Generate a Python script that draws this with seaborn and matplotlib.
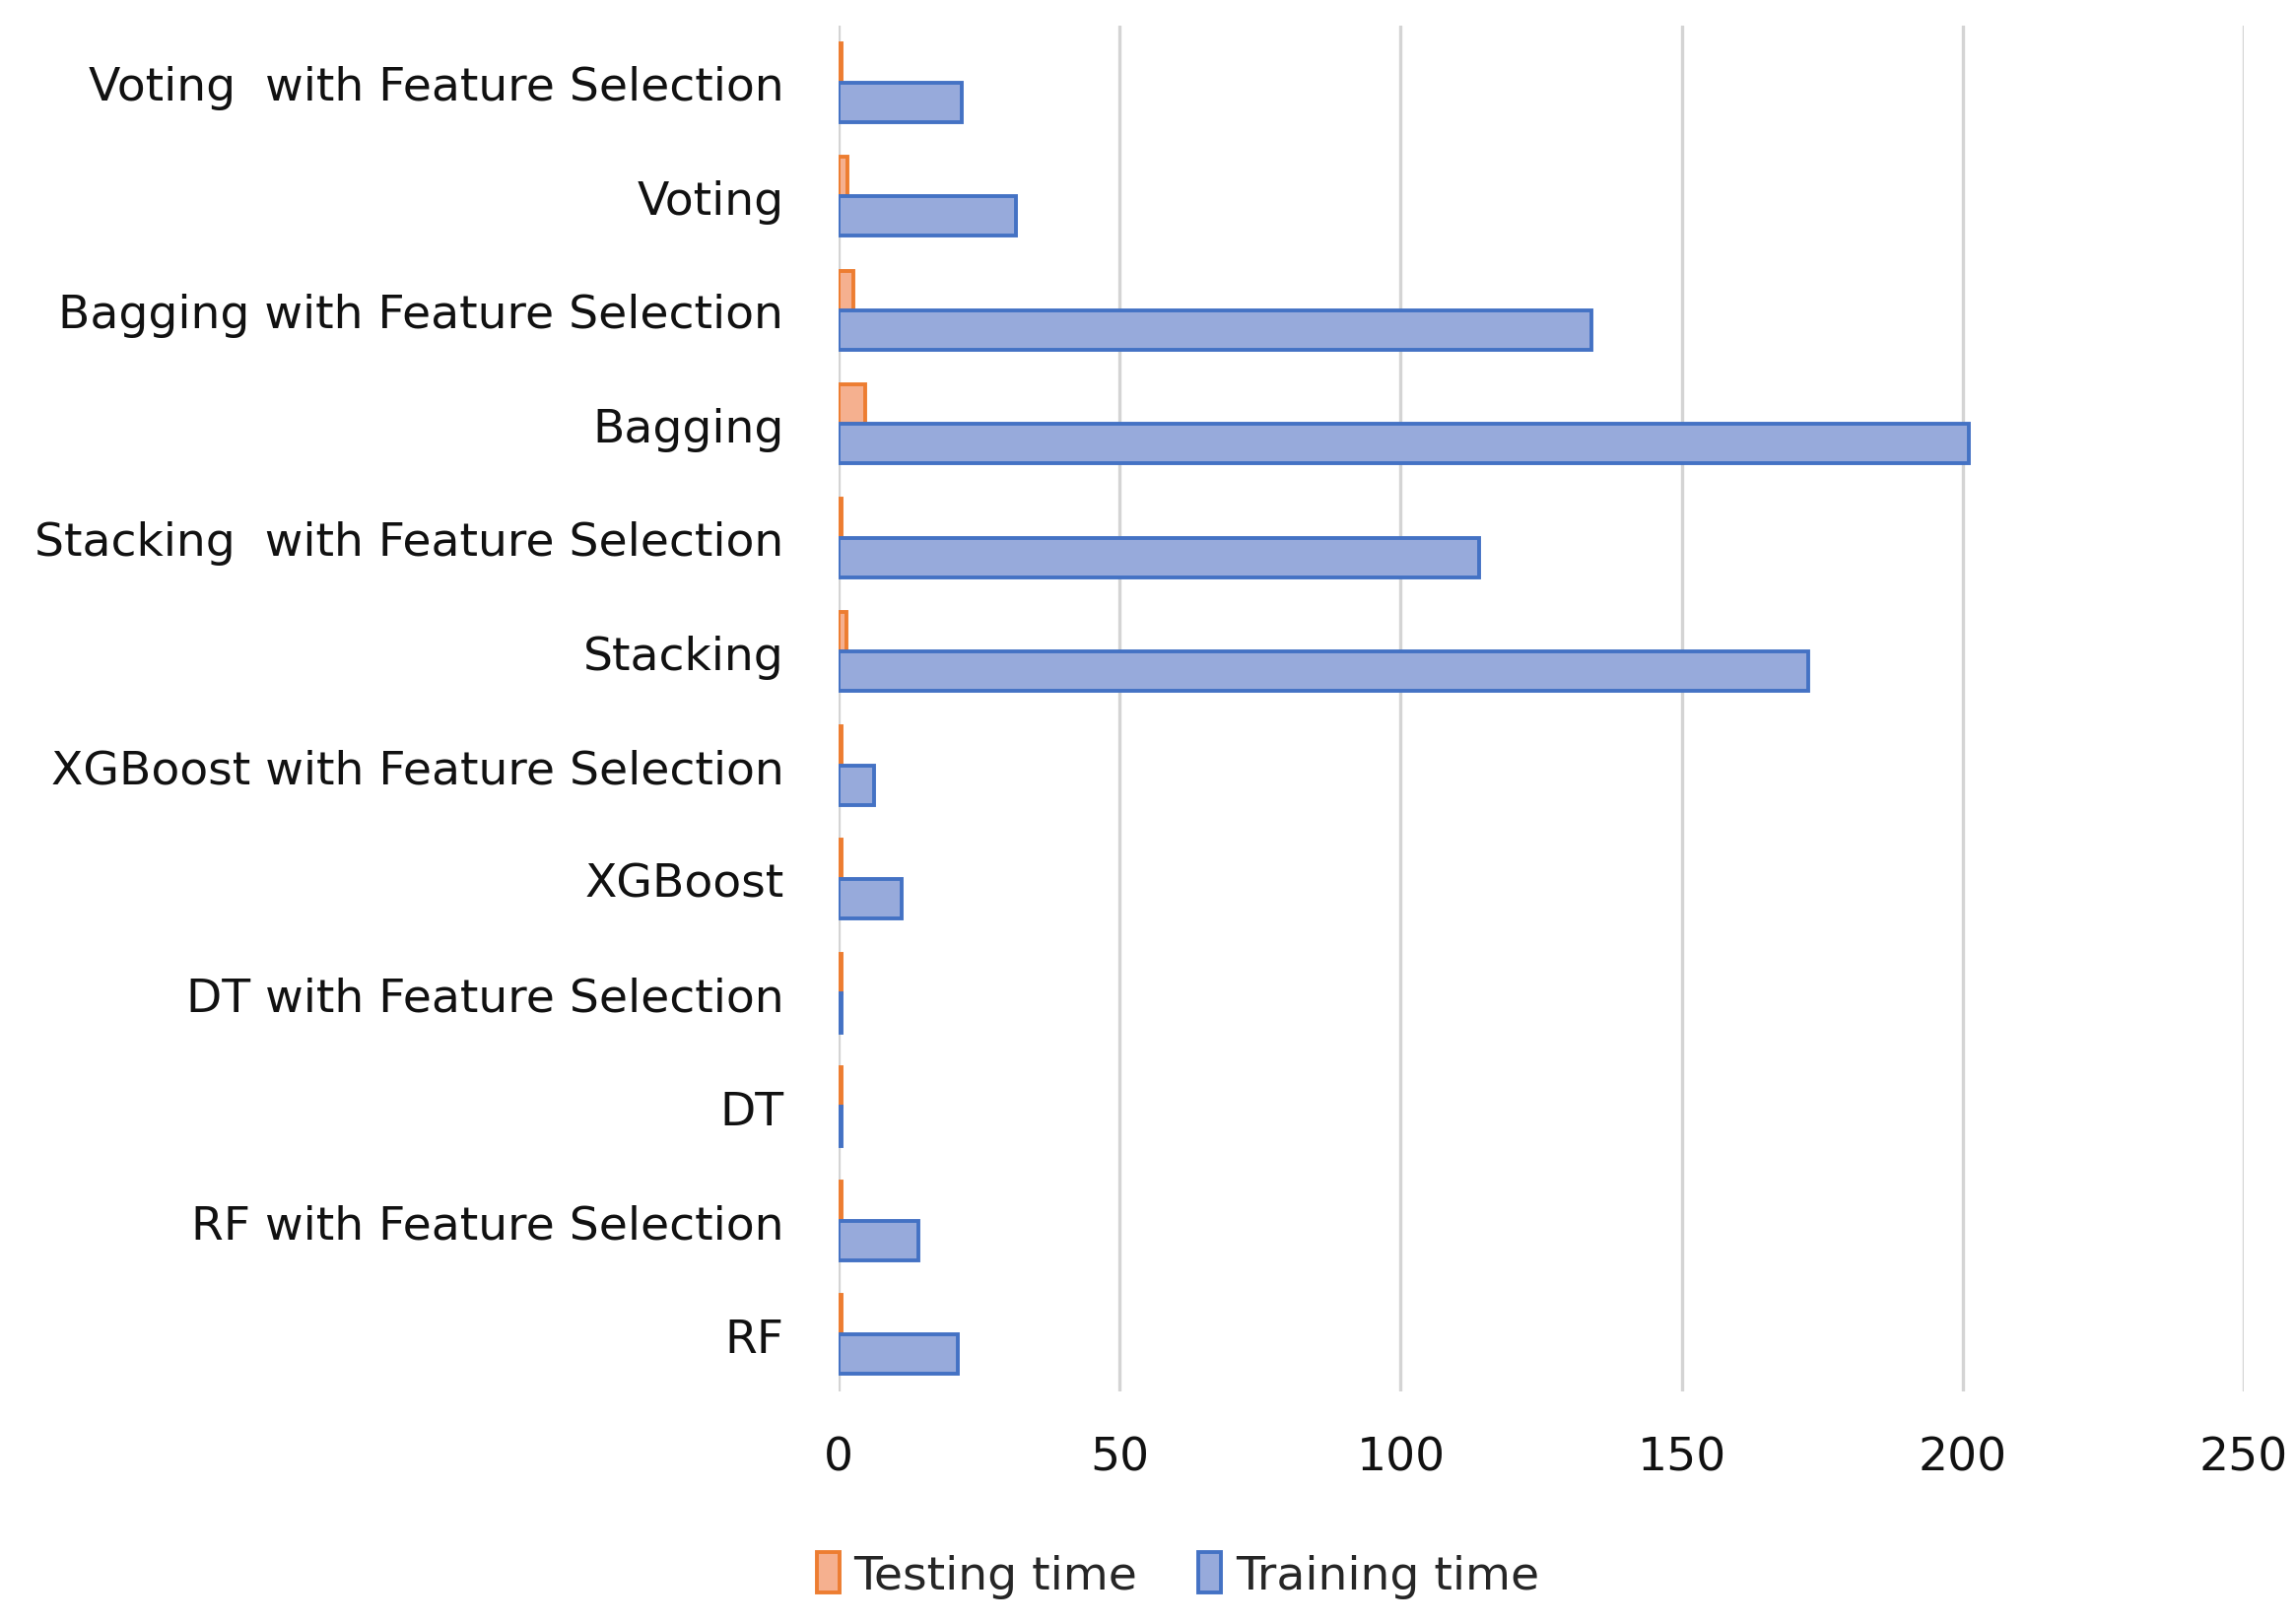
import matplotlib
matplotlib.use("Agg")
import matplotlib.pyplot as plt
import seaborn as sns
import pandas as pd
from matplotlib.patches import Patch

categories = [
    "Voting  with Feature Selection",
    "Voting",
    "Bagging with Feature Selection",
    "Bagging",
    "Stacking  with Feature Selection",
    "Stacking",
    "XGBoost with Feature Selection",
    "XGBoost",
    "DT with Feature Selection",
    "DT",
    "RF with Feature Selection",
    "RF",
]
testing_time = [0.6, 1.6, 2.6, 4.8, 0.6, 1.5, 0.6, 0.6, 0.6, 0.6, 0.6, 0.6]
training_time = [22.0, 31.5, 134.0, 201.0, 114.0, 172.5, 6.3, 11.2, 0.6, 0.6, 14.3, 21.3]
series = ["Testing time", "Training time"]
xticks = [0, 50, 100, 150, 200, 250]

df = pd.DataFrame({
    "Model": categories * 2,
    "Series": [series[0]] * len(categories) + [series[1]] * len(categories),
    "Time": testing_time + training_time,
})

sns.set_theme(style="white")
plt.rcParams["font.family"] = ["DejaVu Sans"]

fig = plt.figure(figsize=(23.30, 16.49), dpi=100)
ax = fig.add_axes([0.3652, 0.1431, 0.6121, 0.8405])

fills = {"Testing time": "#F5B08F", "Training time": "#97AADB"}
edges = {"Testing time": "#ED7D31", "Training time": "#4472C4"}

sns.barplot(data=df, y="Model", x="Time", hue="Series", order=categories,
            hue_order=series, palette=fills, orient="h", width=0.69,
            ax=ax, legend=False, saturation=1)

n = len(categories)
for i, patch in enumerate(ax.patches[:2 * n]):
    s = series[i // n]
    patch.set_edgecolor(edges[s])
    patch.set_linewidth(2.8)

ax.set_xlim(0, 250)
ax.set_xticks(xticks)
ax.set_xticklabels([str(t) for t in xticks])
ax.set_xlabel("")
ax.set_ylabel("")
ax.xaxis.grid(True, color="#D4D4D4", linewidth=2.4)
ax.yaxis.grid(False)
ax.set_axisbelow(True)
for sp in ax.spines.values():
    sp.set_visible(False)
ax.tick_params(axis="both", length=0, labelsize=34, colors="#111111")
ax.tick_params(axis="x", pad=32)
ax.tick_params(axis="y", pad=40)

handles = [Patch(facecolor=fills[s], edgecolor=edges[s], linewidth=2.8, label=s) for s in series]
fig.legend(handles=handles, loc="lower center", bbox_to_anchor=(0.513, -0.01),
           ncol=2, frameon=False, fontsize=34, handlelength=0.5, handleheight=0.95,
           handletextpad=0.3, columnspacing=1.3)

fig.savefig("out.png", dpi=100, facecolor="white")
